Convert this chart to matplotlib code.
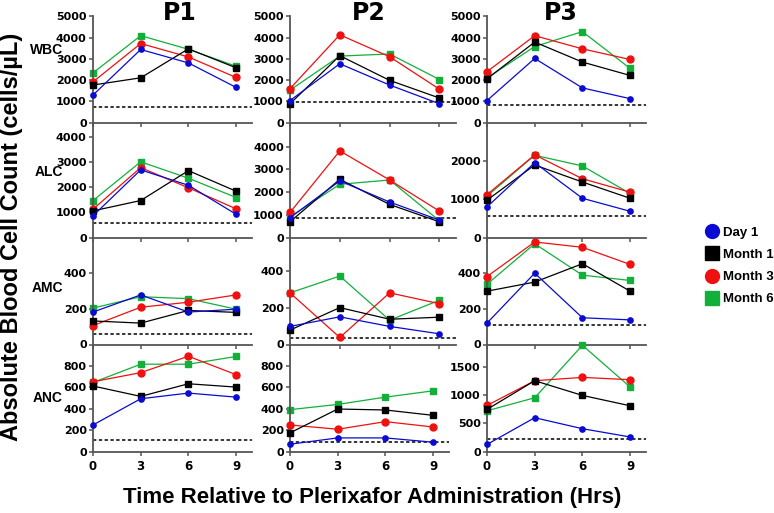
import matplotlib.pyplot as plt
from matplotlib.lines import Line2D

plt.rcParams['font.family'] = ['Liberation Sans', 'DejaVu Sans']
plt.rcParams['font.weight'] = 'bold'

hours = [0, 3, 6, 9]
visits = ['Day 1', 'Month 1', 'Month 3', 'Month 6']
patients = ['P1', 'P2', 'P3']
cell_types = ['WBC', 'ALC', 'AMC', 'ANC']

# each panel: rows are Day 1, Month 1, Month 3, Month 6
wbc_p1 = [[1300, 3440, 2810, 1660], [1770, 2110, 3470, 2580],
          [1920, 3720, 3090, 2125], [2340, 4090, 3450, 2650]]
wbc_p2 = [[1040, 2770, 1770, 890], [890, 3150, 1990, 1160],
          [1600, 4130, 3100, 1575], [1530, 3130, 3230, 2030]]
wbc_p3 = [[1040, 3020, 1635, 1130], [2060, 3790, 2850, 2220],
          [2400, 4090, 3470, 2970], [2100, 3580, 4280, 2550]]

alc_p1 = [[860, 2680, 2070, 920], [1055, 1465, 2650, 1835],
          [1120, 2770, 1970, 1135], [1465, 3000, 2350, 1585]]
alc_p2 = [[870, 2490, 1560, 765], [690, 2560, 1455, 690],
          [1100, 3810, 2530, 1160], [910, 2340, 2530, 735]]
alc_p3 = [[800, 1955, 1025, 685], [975, 1895, 1450, 1025],
          [1120, 2160, 1535, 1185], [1080, 2150, 1870, 1150]]

amc_p1 = [[182, 278, 182, 198], [132, 120, 191, 180],
          [106, 209, 237, 278], [204, 268, 257, 198]]
amc_p2 = [[98, 150, 98, 58], [78, 200, 137, 148],
          [280, 38, 280, 221], [280, 371, 132, 240]]
amc_p3 = [[120, 400, 150, 138], [299, 350, 453, 299],
          [381, 575, 545, 449], [338, 565, 389, 359]]

anc_p1 = [[248, 493, 546, 508], [612, 515, 633, 602],
          [652, 737, 890, 718], [645, 816, 816, 888]]
anc_p2 = [[68, 127, 127, 87], [174, 397, 388, 338],
          [248, 208, 279, 229], [391, 440, 508, 567]]
anc_p3 = [[125, 600, 405, 258], [747, 1257, 996, 812],
          [818, 1257, 1316, 1275], [723, 954, 1886, 1145]]

# dashed reference level in each panel
thresholds = [[750, 963, 850],
              [570, 840, 550],
              [61, 36, 112],
              [103, 87, 214]]

panels = [[wbc_p1, wbc_p2, wbc_p3],
          [alc_p1, alc_p2, alc_p3],
          [amc_p1, amc_p2, amc_p3],
          [anc_p1, anc_p2, anc_p3]]

y_max = [[5000, 5000, 5000],
         [4550, 5050, 3000],
         [600, 580, 600],
         [1000, 1000, 1900]]
y_ticks = [[range(0, 5001, 1000)] * 3,
           [range(0, 4001, 1000), range(0, 4001, 1000), [0, 1000, 2000]],
           [[0, 200, 400]] * 3,
           [range(0, 801, 200), range(0, 801, 200), [0, 500, 1000, 1500]]]

colors = ['#0a0ad2', '#000000', '#f01010', '#12b03a']
markers = ['o', 's', 'o', 's']
msizes = [3.8, 4.6, 5.0, 3.8]
zorders = [5, 4, 3, 2]

W, H = 774, 513
fig = plt.figure(figsize=(W / 100, H / 100), dpi=100)

col_left = [93, 290, 487]
col_width = [159, 166, 159]
row_top = [16.3, 122.7, 237.5, 344.5]
row_bot = [122.7, 237.5, 344.5, 451.5]

for r in range(4):
    for c in range(3):
        width = col_width[c]
        if r == 3 and c == 1:
            width = 159
        ax = fig.add_axes([col_left[c] / W, 1 - row_bot[r] / H,
                           width / W, (row_bot[r] - row_top[r]) / H])
        data = panels[r][c]
        for i in range(4):
            ax.plot(hours, data[i], color=colors[i], marker=markers[i],
                    markersize=msizes[i], lw=0.9, zorder=zorders[i],
                    clip_on=False)
        ax.axhline(thresholds[r][c], color='black', ls=(0, (2.2, 1.6)),
                   lw=1.1, zorder=1)
        ax.set_xlim(0, 10)
        ax.set_ylim(0, y_max[r][c])
        ax.set_xticks(hours)
        ax.set_yticks(list(y_ticks[r][c]))
        if r < 3:
            ax.set_xticklabels([])
        for s in ['top', 'right']:
            ax.spines[s].set_visible(False)
        for s in ['left', 'bottom']:
            ax.spines[s].set_color('#555555')
            ax.spines[s].set_linewidth(1.3)
        ax.tick_params(direction='out', length=3, width=1.1,
                       color='#555555', pad=1.5)
        ax.tick_params(axis='y', labelsize=8)
        ax.tick_params(axis='x', labelsize=8.5, pad=3)
        for lab in ax.get_xticklabels() + ax.get_yticklabels():
            lab.set_family('DejaVu Sans')
        ax.patch.set_alpha(0)

for c in range(3):
    fig.text([180, 369, 561][c] / W, 1 - 13 / H, patients[c], family='DejaVu Sans',
             fontsize=17, fontweight='bold', ha='center', va='center')

for r in range(4):
    fig.text(63 / W, 1 - [50, 172, 288, 398][r] / H, cell_types[r],
             fontsize=10, fontweight='bold', ha='right', va='center')

fig.text(12 / W, 1 - 237 / H, 'Absolute Blood Cell Count (cells/\u00b5L)',
         rotation=90, fontsize=17, fontweight='bold', ha='center', va='center')
fig.text(372 / W, 1 - 497 / H, 'Time Relative to Plerixafor Administration (Hrs)',
         fontsize=16, fontweight='bold', ha='center', va='center')

handles = [Line2D([], [], color=colors[i], marker=markers[i], ls='none',
                  markersize=10) for i in range(4)]
fig.legend(handles, visits, loc='center left',
           bbox_to_anchor=(699 / W, 1 - 266 / H), frameon=False,
           prop={'size': 9.5, 'weight': 'bold'}, handletextpad=0.2,
           labelspacing=0.75, handlelength=1.2, borderaxespad=0)

fig.savefig('out.png', dpi=100)
